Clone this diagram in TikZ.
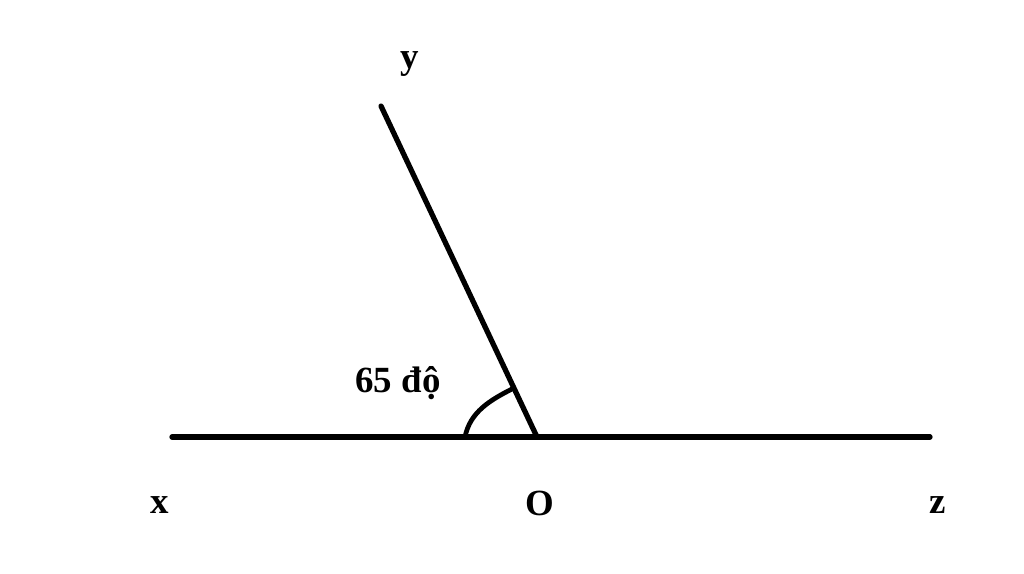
\documentclass[tikz,border=0pt]{standalone}
\usepackage{fontspec}
\setmainfont{Liberation Serif}

\begin{document}
\begin{tikzpicture}[x=0.02cm,y=-0.02cm,
    every node/.style={font=\fontsize{21}{25}\selectfont\bfseries},
    ray/.style={line width=3pt,line cap=round}]

\useasboundingbox (0,0) rectangle (1024,574);

% points
\coordinate (O) at (537,437);
\coordinate (xend) at (172,437);
\coordinate (zend) at (930,437);
\coordinate (yend) at (381,106);
\coordinate (arcx) at (465,437);
\coordinate (arcy) at (514,388);

% labels
\node (ylab) at (410,64) {y};
\node (xlab) at (160,505) {x};
\node (Olab) at (540,503) {O};
\node (zlab) at (938,505) {z};
\node (angle) at (398,383) {65 độ};

% rays
\draw [ray] (xend) -- (zend);
\draw [ray] (O) -- (yend);
\draw [line width=2.7pt] (arcx) .. controls (470,412) and (490,400) .. (arcy);
\end{tikzpicture}
\end{document}
